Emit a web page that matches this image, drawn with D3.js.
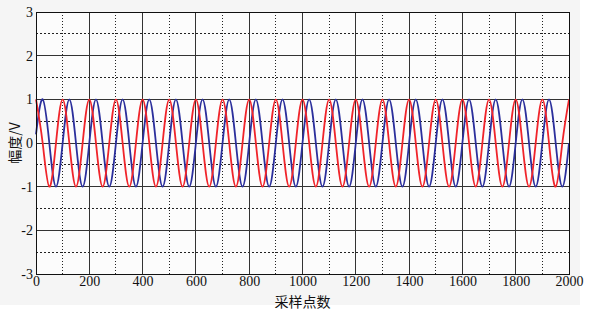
<!DOCTYPE html>
<html>
<head>
<meta charset="utf-8">
<script src="https://cdn.jsdelivr.net/npm/d3@7/dist/d3.min.js"></script>
<style>
  html, body { margin: 0; padding: 0; background: #fff; }
  svg { display: block; }
  .tick-label { font-family: "Liberation Serif", "DejaVu Serif", serif; font-size: 14px; fill: #111; }
  .axis-title { font-family: "Noto Sans CJK SC", "Liberation Serif", serif; font-size: 14px; fill: #111; }
</style>
</head>
<body>
<svg id="chart" width="589" height="312"></svg>
<script>
// sample positions (quarter-period key points)
const samples = [
  0, 25, 50, 75, 100, 125, 150, 175, 200, 225, 250, 275, 300, 325, 350, 375,
  400, 425, 450, 475, 500, 525, 550, 575, 600, 625, 650, 675, 700, 725, 750, 775,
  800, 825, 850, 875, 900, 925, 950, 975, 1000, 1025, 1050, 1075, 1100, 1125, 1150, 1175,
  1200, 1225, 1250, 1275, 1300, 1325, 1350, 1375, 1400, 1425, 1450, 1475, 1500, 1525, 1550, 1575,
  1600, 1625, 1650, 1675, 1700, 1725, 1750, 1775, 1800, 1825, 1850, 1875, 1900, 1925, 1950, 1975, 2000
];
// red trace: peaks on multiples of 100
const redValues = [
  1, 0, -1, 0, 1, 0, -1, 0, 1, 0, -1, 0, 1, 0, -1, 0,
  1, 0, -1, 0, 1, 0, -1, 0, 1, 0, -1, 0, 1, 0, -1, 0,
  1, 0, -1, 0, 1, 0, -1, 0, 1, 0, -1, 0, 1, 0, -1, 0,
  1, 0, -1, 0, 1, 0, -1, 0, 1, 0, -1, 0, 1, 0, -1, 0,
  1, 0, -1, 0, 1, 0, -1, 0, 1, 0, -1, 0, 1, 0, -1, 0, 1
];
// blue trace: lags red by a quarter period
const blueValues = [
  0.2, 1, 0, -1, 0, 1, 0, -1, 0, 1, 0, -1, 0, 1, 0, -1,
  0, 1, 0, -1, 0, 1, 0, -1, 0, 1, 0, -1, 0, 1, 0, -1,
  0, 1, 0, -1, 0, 1, 0, -1, 0, 1, 0, -1, 0, 1, 0, -1,
  0, 1, 0, -1, 0, 1, 0, -1, 0, 1, 0, -1, 0, 1, 0, -1,
  0, 1, 0, -1, 0, 1, 0, -1, 0, 1, 0, -1, 0, 1, 0, -1, 0
];
const xMajor = [0, 200, 400, 600, 800, 1000, 1200, 1400, 1600, 1800, 2000];
const xMinor = [100, 300, 500, 700, 900, 1100, 1300, 1500, 1700, 1900];
const yMajor = [-3, -2, -1, 0, 1, 2, 3];
const yMinor = [-2.5, -1.5, -0.5, 0.5, 1.5, 2.5];
const xTitle = '采样点数';
const yTitle = '幅度/V';

const svg = d3.select('#chart');
const W = 589, H = 312;
const m = { left: 36, top: 12, right: 20, bottom: 38 };
const x = d3.scaleLinear().domain([0, 2000]).range([m.left, W - m.right]);
const y = d3.scaleLinear().domain([-3, 3]).range([H - m.bottom, m.top]);

// page background, a light grey sheet
svg.append('rect').attr('width', W).attr('height', H).attr('fill', '#fff');
svg.append('rect').attr('width', 580).attr('height', 305).attr('fill', '#f5f5f5');
svg.append('rect')
  .attr('x', x(0)).attr('y', y(3))
  .attr('width', x(2000) - x(0)).attr('height', y(-3) - y(3))
  .attr('fill', '#fcfcfc');

const grid = svg.append('g');
// dotted minor grid
grid.selectAll('.vmin').data(xMinor).join('line')
  .attr('x1', d => x(d)).attr('x2', d => x(d))
  .attr('y1', y(3)).attr('y2', y(-3))
  .attr('stroke', '#222').attr('stroke-width', 1).attr('stroke-dasharray', '1 2')
  .attr('shape-rendering', 'crispEdges');
grid.selectAll('.hmin').data(yMinor).join('line')
  .attr('x1', x(0)).attr('x2', x(2000))
  .attr('y1', d => y(d)).attr('y2', d => y(d))
  .attr('stroke', '#222').attr('stroke-width', 1).attr('stroke-dasharray', '2 2')
  .attr('shape-rendering', 'crispEdges');
// solid major grid
grid.selectAll('.vmaj').data(xMajor).join('line')
  .attr('x1', d => x(d)).attr('x2', d => x(d))
  .attr('y1', y(3)).attr('y2', y(-3))
  .attr('stroke', '#333').attr('stroke-width', 1)
  .attr('shape-rendering', 'crispEdges');
grid.selectAll('.hmaj').data(yMajor).join('line')
  .attr('x1', x(0)).attr('x2', x(2000))
  .attr('y1', d => y(d)).attr('y2', d => y(d))
  .attr('stroke', '#333').attr('stroke-width', 1)
  .attr('shape-rendering', 'crispEdges');

// traces
const line = d3.line()
  .x((d, i) => x(samples[i]))
  .y(d => y(d))
  .curve(d3.curveNatural);

svg.append('path').datum(blueValues)
  .attr('d', line).attr('fill', 'none')
  .attr('stroke', '#2b2f9c').attr('stroke-width', 1.8);
svg.append('path').datum(redValues)
  .attr('d', line).attr('fill', 'none')
  .attr('stroke', '#f0242a').attr('stroke-width', 1.8);

// frame
svg.append('rect')
  .attr('x', x(0)).attr('y', y(3))
  .attr('width', x(2000) - x(0)).attr('height', y(-3) - y(3))
  .attr('fill', 'none').attr('stroke', '#111').attr('stroke-width', 1)
  .attr('shape-rendering', 'crispEdges');

// axes with d3 tick generators, but drawn in the MATLAB style (plain hyphen minus)
const plain = d => String(d);
const xAxis = d3.axisBottom(x).tickValues(xMajor).tickSize(0).tickPadding(2).tickFormat(plain);
const gx = svg.append('g').attr('transform', `translate(0,${y(-3)})`).call(xAxis);
gx.select('.domain').remove();
gx.selectAll('text').attr('class', 'tick-label').attr('fill', null);
gx.attr('font-size', null).attr('font-family', null);

const yAxis = d3.axisLeft(y).tickValues(yMajor).tickSize(0).tickPadding(3).tickFormat(plain);
const gy = svg.append('g').attr('transform', `translate(${x(0)},0)`).call(yAxis);
gy.select('.domain').remove();
gy.selectAll('text').attr('class', 'tick-label').attr('fill', null);
gy.attr('font-size', null).attr('font-family', null);

svg.append('text').attr('class', 'axis-title')
  .attr('x', (x(0) + x(2000)) / 2).attr('y', 307)
  .attr('text-anchor', 'middle').text(xTitle);
svg.append('text').attr('class', 'axis-title')
  .attr('transform', `translate(20,${y(0)}) rotate(-90)`)
  .attr('text-anchor', 'middle').text(yTitle);
</script>
</body>
</html>
